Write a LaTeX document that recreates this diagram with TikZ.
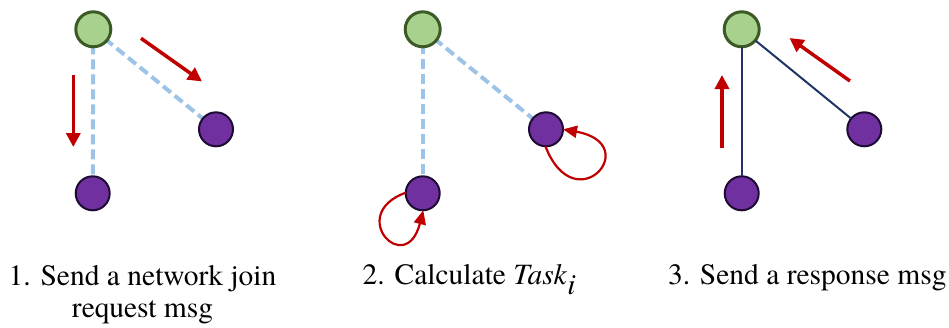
\documentclass[tikz,border=0pt]{standalone}
\usepackage{fontspec}
\setmainfont{texgyretermes}[Extension=.otf, UprightFont=*-regular, ItalicFont=*-italic, BoldFont=*-bold, BoldItalicFont=*-bolditalic]
\usetikzlibrary{arrows.meta}
\definecolor{gfill}{HTML}{A9D18E}
\definecolor{gborder}{HTML}{3B5A25}
\definecolor{pfill}{HTML}{7030A0}
\definecolor{pborder}{HTML}{1E0B33}
\definecolor{dashblue}{HTML}{9DC3E6}
\definecolor{navy}{HTML}{1F3566}
\definecolor{arrred}{HTML}{C00000}
\tikzset{
  gnode/.style={circle, fill=gfill, draw=gborder, line width=3pt, minimum size=35pt, inner sep=0pt, outer sep=0pt},
  pnode/.style={circle, fill=pfill, draw=pborder, line width=2pt, minimum size=34pt, inner sep=0pt, outer sep=0pt},
  dashlink/.style={draw=dashblue, line width=4pt, dash pattern=on 10pt off 5pt},
  solidlink/.style={draw=navy, line width=2pt},
  bigarrow/.style={draw=arrred, line width=3.5pt, -{Triangle[length=14pt,width=14pt]}},
  looparrow/.style={draw=arrred, line width=2.2pt, -{Triangle[length=14pt,width=12pt]}},
  caption/.style={font=\fontsize{29.5}{32}\selectfont, inner sep=0pt, outer sep=0pt}
}
\begin{document}
\begin{tikzpicture}[x=1pt,y=-1pt]
\useasboundingbox (0,0) rectangle (949,327);
% ---------- panel 1 ----------
\draw[dashlink] (93.3,29.3) -- (92.7,193.3);
\draw[dashlink] (93.3,29.3) -- (216,129.3);
\node[gnode] (g1) at (93.3,29.3) {};
\node[pnode] (b1) at (92.7,193.3) {};
\node[pnode] (r1) at (216,129.3) {};
\coordinate (a1s) at (73.3,75);
\coordinate (a1e) at (73.3,147);
\coordinate (a2s) at (141,38.3);
\coordinate (a2e) at (202,81.5);
\draw[bigarrow] (a1s) -- (a1e);
\draw[bigarrow] (a2s) -- (a2e);
% ---------- panel 2 ----------
\draw[dashlink] (422.7,29.3) -- (422.7,193.3);
\draw[dashlink] (422.7,29.3) -- (546,129.3);
\node[gnode] (g2) at (422.7,29.3) {};
\node[pnode] (b2) at (422.7,193.3) {};
\node[pnode] (r2) at (546,129.3) {};
\draw[looparrow] (b2.178) .. controls +(-60,21.7) and +(-17.6,68.2) .. (b2.-88);
\draw[looparrow] (r2.-92) .. controls +(30,76.7) and +(82,14.7) .. (r2.0);
% ---------- panel 3 ----------
\node[gnode] (g3) at (741.7,29.3) {};
\node[pnode] (b3) at (741.7,193.3) {};
\node[pnode] (r3) at (864.3,129.3) {};
\draw[solidlink] (g3) -- (b3);
\draw[solidlink] (g3) -- (r3);
\coordinate (a3s) at (722,148.3);
\coordinate (a3e) at (722,75);
\coordinate (a4s) at (850,81);
\coordinate (a4e) at (789.5,38);
\draw[bigarrow] (a3s) -- (a3e);
\draw[bigarrow] (a4s) -- (a4e);
% ---------- captions ----------
\node[caption, anchor=base, align=center] (t1) at (142.5,317) {1. Send a network join\\request msg};
\node[caption, anchor=base west] (t2) at (362.7,284) {2. Calculate \textit{Task}$_{\textit{i}}$};
\node[caption, anchor=base west] (t3) at (668,284) {3. Send a response msg};
\end{tikzpicture}
\end{document}
